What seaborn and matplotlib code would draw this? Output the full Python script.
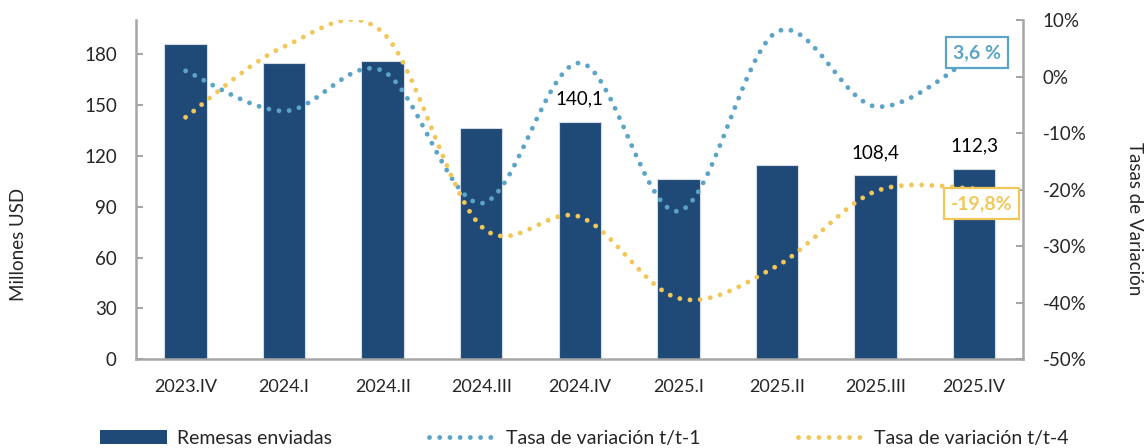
import numpy as np
import matplotlib
matplotlib.use("Agg")
import matplotlib.pyplot as plt
import seaborn as sns
from matplotlib.path import Path
from matplotlib.patches import PathPatch, Patch
from matplotlib.lines import Line2D
from matplotlib.ticker import FixedLocator, FuncFormatter

# --- data ---
quarters = ["2023.IV", "2024.I", "2024.II", "2024.III", "2024.IV",
            "2025.I", "2025.II", "2025.III", "2025.IV"]
remesas = [186.0, 174.5, 176.1, 136.5, 140.1, 106.4, 114.5, 108.4, 112.3]
tasa_t1 = [1.0, -6.1, 1.0, -22.4, 2.4, -23.8, 7.9, -5.3, 3.6]     # t/t-1, %
tasa_t4 = [-7.2, 5.3, 7.8, -26.5, -24.8, -39.2, -33.5, -20.3, -19.8]  # t/t-4, %
labelled = ["2024.IV", "2025.III", "2025.IV"]  # bars with a value label

NAVY = "#1F4A78"
BLUE = "#5BA4C7"
GOLD = "#F2C75A"
GREY = "#A6A6A6"
DOTS = (0, (0.001, 2.1))


def smooth_path(values):
    """Excel-like smoothed line: Catmull-Rom turned into cubic Bezier segments."""
    pts = np.column_stack([np.arange(len(values)), values]).astype(float)
    pad = np.vstack([pts[0], pts, pts[-1]])
    verts, codes = [pts[0]], [Path.MOVETO]
    for i in range(len(pts) - 1):
        p0, p1, p2, p3 = pad[i], pad[i + 1], pad[i + 2], pad[i + 3]
        verts += [p1 + (p2 - p0) / 6, p2 - (p3 - p1) / 6, p2]
        codes += [Path.CURVE4] * 3
    return Path(verts, codes)


sns.set_style("white")
plt.rcParams["font.family"] = ["Lato", "DejaVu Sans"]
plt.rcParams["font.size"] = 13

fig = plt.figure(figsize=(11.44, 4.48), dpi=100)
ax = fig.add_axes([136.3 / 1144, 1 - 359.3 / 448, 887 / 1144, 339.3 / 448])

sns.barplot(x=quarters, y=remesas, color=NAVY, saturation=1, width=0.43,
            edgecolor="#D5DBE3", linewidth=0.8, ax=ax, zorder=2)
ax.set_xlim(-0.5, len(quarters) - 0.5)
ax.set_ylim(0, 200)
ax.set_yticks(range(0, 181, 30))
ax.set_xlabel("")
ax.set_ylabel("Millones USD", fontsize=13.5, va="center")
ax.yaxis.set_label_coords((18 - 136.3) / 887, (359.3 - 244.5) / 339.3)

# value labels on selected bars
for q, v in zip(quarters, remesas):
    if q in labelled:
        ax.annotate(f"{v:.1f}".replace(".", ","), xy=(quarters.index(q), v),
                    xytext=(0, 16.5), textcoords="offset points",
                    ha="center", va="center", fontsize=13.5, color="black")

# ticks / spines (left + bottom)
ax.xaxis.set_minor_locator(FixedLocator(np.arange(0.5, len(quarters) - 0.5, 1)))
ax.tick_params(axis="x", which="major", length=0, pad=14, labelsize=13)
ax.tick_params(axis="x", which="minor", direction="in", length=5, width=1.5, color=GREY)
ax.tick_params(axis="y", direction="in", length=5, width=1.5, color=GREY, pad=14, labelsize=13.5)
for side in ["top", "right"]:
    ax.spines[side].set_visible(False)
for side in ["left", "bottom"]:
    ax.spines[side].set_color(GREY)
    ax.spines[side].set_linewidth(1.8)

# --- rates on the right axis ---
ax2 = ax.twinx()
ax2.set_ylim(-50, 10)
ax2.set_yticks(range(-50, 11, 10))
ax2.yaxis.set_major_formatter(FuncFormatter(lambda v, _: f"{v:.0f}%"))
ax2.tick_params(axis="y", direction="in", length=5, width=1.5, color=GREY, pad=14, labelsize=13.5)
for side in ["top", "left", "bottom"]:
    ax2.spines[side].set_visible(False)
ax2.spines["right"].set_color(GREY)
ax2.spines["right"].set_linewidth(1.8)
ax2.set_ylabel("Tasas de Variación", rotation=270, fontsize=13.5, va="center")
ax2.yaxis.set_label_coords((1134 - 136.3) / 887, (359.3 - 219) / 339.3)

for vals, col in [(tasa_t1, BLUE), (tasa_t4, GOLD)]:
    ax2.add_patch(PathPatch(smooth_path(vals), fill=False, edgecolor=col, lw=3.5,
                            linestyle=DOTS, capstyle="round", zorder=3))

# boxed end values
last = len(quarters) - 1
ax2.annotate(f"{tasa_t1[-1]:.1f} %".replace(".", ","), xy=(last, tasa_t1[-1]),
             xytext=(2, 2.5), textcoords="offset points", ha="center", va="center",
             fontsize=14, fontweight="bold", color=BLUE, zorder=5,
             bbox=dict(boxstyle="square,pad=0.36", fc="white", ec=BLUE, lw=1.6))
ax2.annotate(f"{tasa_t4[-1]:.1f}%".replace(".", ","), xy=(last, tasa_t4[-1]),
             xytext=(5.5, -11), textcoords="offset points", ha="center", va="center",
             fontsize=14, fontweight="bold", color=GOLD, zorder=5,
             bbox=dict(boxstyle="square,pad=0.36", fc="white", ec=GOLD, lw=1.6))

# --- legend under the chart ---
handles = [
    Patch(facecolor=NAVY, edgecolor="none"),
    Line2D([], [], color=BLUE, lw=3.5, linestyle=DOTS, dash_capstyle="round"),
    Line2D([], [], color=GOLD, lw=3.5, linestyle=DOTS, dash_capstyle="round"),
]
fig.legend(handles, ["Remesas enviadas", "Tasa de variación t/t-1", "Tasa de variación t/t-4"],
           loc="center left", bbox_to_anchor=(100 / 1144, 1 - 438 / 448), ncol=3,
           frameon=False, fontsize=14, handlelength=3.45, handletextpad=0.5,
           columnspacing=5.0, borderpad=0, borderaxespad=0)

fig.savefig("out.png", dpi=100)
